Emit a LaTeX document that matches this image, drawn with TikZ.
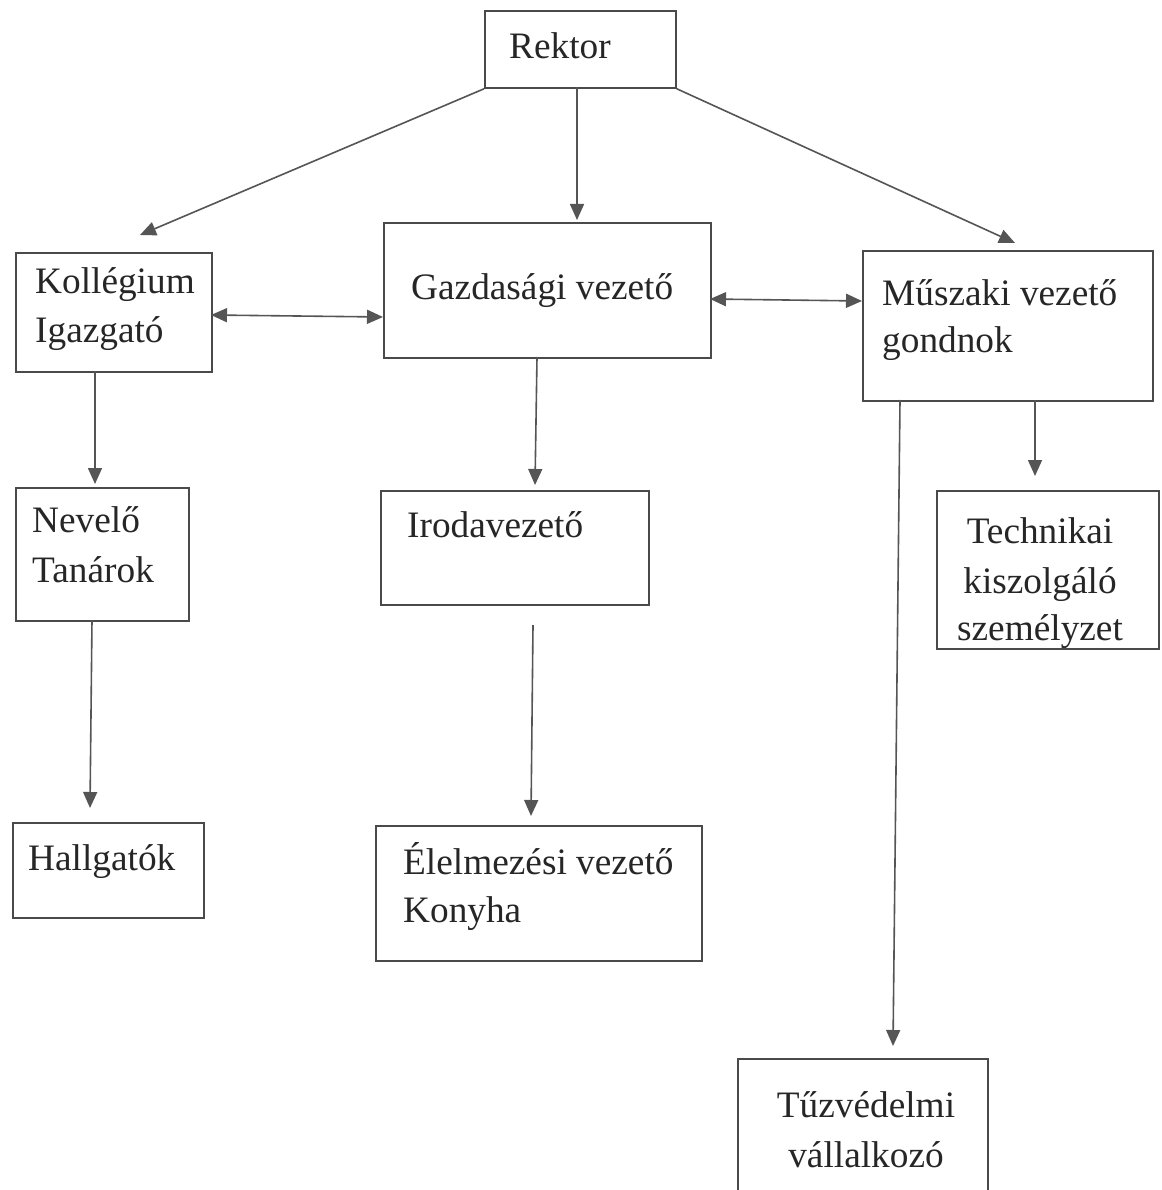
\documentclass[tikz,border=0pt]{standalone}
\usepackage{fontspec}
\setmainfont{Liberation Serif}
\usetikzlibrary{arrows.meta}
\definecolor{boxc}{HTML}{4A4A4A}
\definecolor{arrc}{HTML}{555555}
\begin{document}
\begin{tikzpicture}[x=1pt,y=-1pt,
  box/.style={draw=boxc,line width=1.8pt,minimum width=#1,inner sep=0pt,anchor=north west,rectangle},
  txt/.style={font=\fontsize{37.3}{49}\selectfont,inner sep=0pt,text=black!85},
  arr/.style={draw=arrc,line width=1.6pt,-{Triangle[length=16pt,width=14pt]}},
  darr/.style={draw=arrc,line width=1.6pt,{Triangle[length=16pt,width=14pt]}-{Triangle[length=16pt,width=14pt]}}]
\useasboundingbox (0,0) rectangle (1161,1190);
\fill[white] (0,0) rectangle (1161,1190);
% boxes
\node[box=191pt,minimum height=77pt] (rektor) at (484,10) {};
\node[box=196pt,minimum height=119pt] (koll) at (15,252) {};
\node[box=327pt,minimum height=135pt] (gazd) at (383,222) {};
\node[box=290pt,minimum height=150pt] (musz) at (862,250) {};
\node[box=173pt,minimum height=133pt] (nev) at (15,487) {};
\node[box=268pt,minimum height=114pt] (iroda) at (380,490) {};
\node[box=222pt,minimum height=158pt] (tech) at (936,490) {};
\node[box=191pt,minimum height=95pt] (hall) at (12,822) {};
\node[box=326pt,minimum height=135pt] (elel) at (375,825) {};
\node[box=250pt,minimum height=142pt] (tuz) at (737,1058) {};
% texts
\node[txt,anchor=base west] (trektor) at (509,59) {Rektor};
\node[txt,anchor=base west] (tkoll1) at (35,293) {Kollégium};
\node[txt,anchor=base west] (tkoll2) at (35,342) {Igazgató};
\node[txt,anchor=base west] (tgazd) at (411,299) {Gazdasági vezető};
\node[txt,anchor=base west] (tmusz1) at (882,305) {Műszaki vezető};
\node[txt,anchor=base west] (tmusz2) at (882,352) {gondnok};
\node[txt,anchor=base west] (tnev1) at (32,532) {Nevelő};
\node[txt,anchor=base west] (tnev2) at (32,582) {Tanárok};
\node[txt,anchor=base west] (tiroda) at (407,537) {Irodavezető};
\node[txt,anchor=base] (ttech1) at (1040,543) {Technikai};
\node[txt,anchor=base] (ttech2) at (1040,593) {kiszolgáló};
\node[txt,anchor=base] (ttech3) at (1040,640) {személyzet};
\node[txt,anchor=base west] (thall) at (28,870) {Hallgatók};
\node[txt,anchor=base west] (telel1) at (403,874) {Élelmezési vezető};
\node[txt,anchor=base west] (telel2) at (403,922) {Konyha};
\node[txt,anchor=base] (ttuz1) at (866,1117) {Tűzvédelmi};
\node[txt,anchor=base] (ttuz2) at (866,1167) {vállalkozó};
% arrow end coordinates
\coordinate (e1) at (140,235);
\coordinate (s2) at (577,87);
\coordinate (e2) at (577,220);
\coordinate (e3) at (1015,243);
\coordinate (s4) at (211,315);
\coordinate (e4) at (383,317);
\coordinate (s5) at (710,299);
\coordinate (e5) at (862,301);
\coordinate (s6) at (95,371);
\coordinate (e6) at (95,484);
\coordinate (s7) at (92,620);
\coordinate (e7) at (90,808);
\coordinate (s8) at (537,357);
\coordinate (e8) at (535,485);
\coordinate (s9) at (533,625);
\coordinate (e9) at (531,816);
\coordinate (s10) at (900,400);
\coordinate (e10) at (893,1046);
\coordinate (s11) at (1035,400);
\coordinate (e11) at (1035,476);
% arrows
\draw[arr] (rektor.south west) -- (e1);
\draw[arr] (s2) -- (e2);
\draw[arr] (rektor.south east) -- (e3);
\draw[darr] (s4) -- (e4);
\draw[darr] (s5) -- (e5);
\draw[arr] (s6) -- (e6);
\draw[arr] (s7) -- (e7);
\draw[arr] (s8) -- (e8);
\draw[arr] (s9) -- (e9);
\draw[arr] (s10) -- (e10);
\draw[arr] (s11) -- (e11);
\end{tikzpicture}
\end{document}
